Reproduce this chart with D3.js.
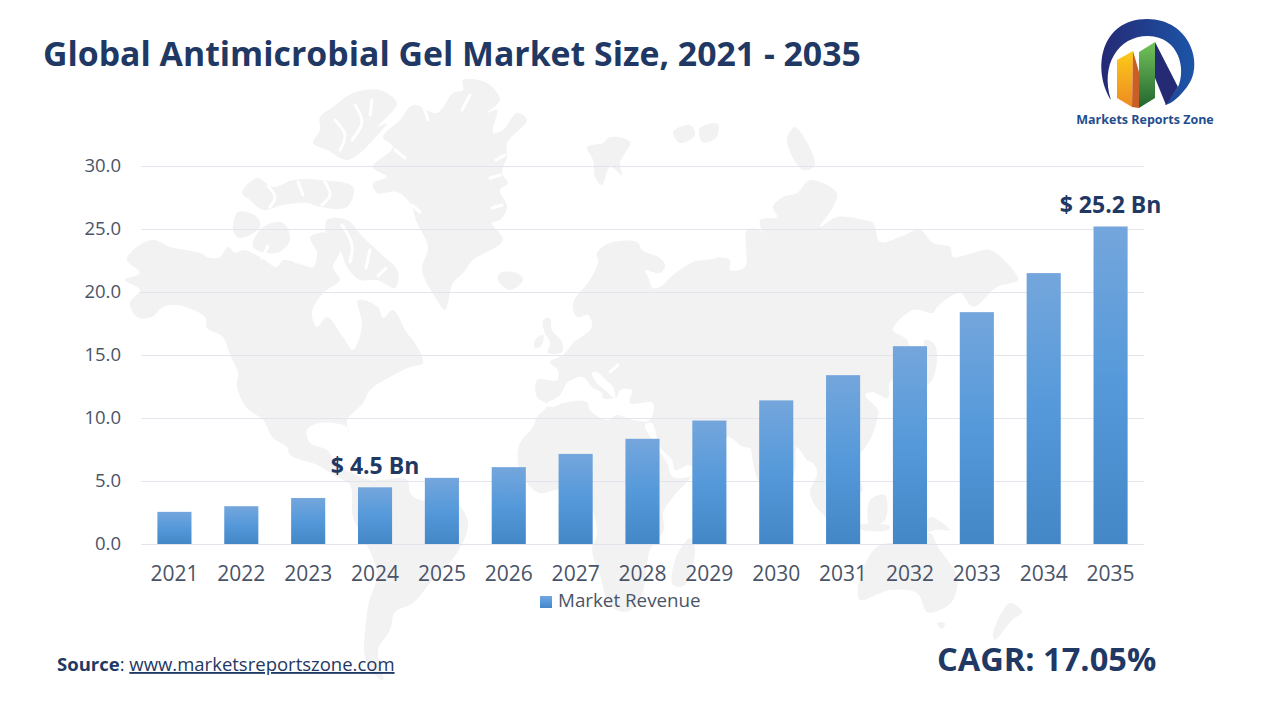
<!DOCTYPE html>
<html>
<head>
<meta charset="utf-8">
<title>Global Antimicrobial Gel Market Size</title>
<script src="https://cdn.jsdelivr.net/npm/d3@7"></script>
<style>
  html, body { margin: 0; padding: 0; background: #fff; }
  svg { display: block; font-family: "Open Sans", sans-serif; }
  .tick text { fill: #4a5468; font-family: "Open Sans", sans-serif; }
  .grid line { stroke: #e2e5ec; stroke-width: 1.2; }
  .grid path, .xaxis path, .xaxis line { display: none; }
</style>
</head>
<body>
<svg id="chart" width="1280" height="720"></svg>
<script>
// chart values
let years = ["2021","2022","2023","2024","2025","2026","2027","2028","2029","2030","2031","2032","2033","2034","2035"];
let revenue = [2.55, 3.0, 3.65, 4.5, 5.25, 6.1, 7.15, 8.35, 9.8, 11.4, 13.4, 15.7, 18.4, 21.5, 25.2];
let yTicks = [0, 5, 10, 15, 20, 25, 30];
let callouts = [["2024", 4.5, "$ 4.5 Bn"], ["2035", 25.2, "$ 25.2 Bn"]];
let seriesName = "Market Revenue";

// background map outlines
let land = [
  // americas
  [[133,250],[153,240],[170,247],[200,253],[210,258],[220,257],[228,247],[235,253],[243,250],[260,257],[277,267],[283,260],[303,265],[313,267],[317,253],[310,237],[327,233],[340,250],[333,267],[340,280],[323,293],[312,313],[317,327],[327,317],[343,337],[353,350],[362,325],[358,300],[378,307],[383,318],[393,310],[407,333],[415,343],[423,363],[410,367],[390,377],[370,390],[363,403],[353,413],[347,420],[350,437],[347,427],[320,423],[307,430],[310,443],[327,450],[337,465],[350,472],[370,480],[407,480],[410,493],[420,500],[453,500],[468,523],[457,553],[430,583],[413,603],[395,612],[390,630],[378,650],[383,680],[373,673],[365,657],[368,607],[377,573],[363,537],[353,517],[350,485],[337,477],[317,465],[290,455],[287,447],[273,438],[263,420],[247,408],[237,387],[238,373],[230,355],[223,337],[207,328],[205,317],[177,305],[163,307],[152,317],[137,317],[130,303],[140,290],[125,280],[140,273],[127,260]],
  // greenland
  [[463,80],[487,83],[500,100],[487,113],[497,110],[493,133],[503,130],[517,113],[527,120],[507,143],[507,157],[502,173],[508,183],[500,190],[507,207],[500,220],[492,223],[503,240],[473,260],[463,273],[453,283],[445,310],[437,300],[422,270],[428,247],[417,223],[410,203],[397,192],[377,193],[373,183],[387,177],[373,167],[393,147],[383,137],[400,120],[413,105],[437,113],[453,93],[463,90]],
  // arctic islands
  [[320,117],[333,107],[353,93],[380,90],[397,103],[387,117],[377,127],[387,123],[373,140],[360,153],[347,160],[327,150],[313,143],[320,130]],
  [[242,193],[257,178],[273,187],[293,180],[320,180],[353,187],[347,207],[320,207],[307,203],[283,205],[263,210],[250,200]],
  [[233,230],[238,212],[257,217],[260,227],[240,238]],
  [[263,227],[283,223],[290,240],[277,253],[253,247]],
  [[327,220],[347,220],[363,237],[380,253],[398,272],[395,288],[377,280],[360,280],[347,267],[340,250],[327,237]],
  // iceland
  [[500,273],[517,273],[523,280],[510,290],[498,280]],
  // eurasia and africa
  [[537,380],[557,380],[558,370],[550,362],[563,355],[573,343],[580,338],[592,327],[588,315],[577,317],[573,303],[590,280],[598,262],[597,253],[610,243],[637,242],[642,250],[660,258],[665,266],[650,287],[670,267],[690,257],[710,257],[730,260],[730,270],[745,267],[747,230],[760,230],[767,243],[760,220],[777,217],[773,207],[783,197],[797,193],[810,180],[837,193],[833,207],[820,227],[837,217],[863,220],[873,223],[880,242],[900,237],[920,230],[933,243],[950,247],[953,257],[973,253],[990,250],[1013,270],[1018,280],[997,287],[973,307],[960,293],[937,307],[933,313],[913,310],[893,330],[907,340],[910,360],[905,375],[890,382],[888,398],[872,392],[865,395],[878,410],[877,420],[870,440],[853,467],[863,490],[850,495],[838,482],[823,513],[810,493],[817,473],[813,463],[807,460],[797,447],[795,470],[785,500],[770,495],[758,480],[753,463],[750,448],[743,447],[727,437],[693,465],[692,475],[673,497],[663,513],[664,530],[650,550],[647,565],[640,600],[625,612],[610,605],[600,575],[592,550],[597,533],[590,507],[560,490],[540,493],[527,483],[518,463],[520,443],[533,427],[537,417],[547,405],[537,397]],
  // britain, ireland
  [[543,320],[550,318],[552,330],[562,342],[562,352],[548,353],[550,343],[545,333]],
  [[535,340],[543,335],[542,345],[535,348]],
  // svalbard, franz josef, novaya zemlya
  [[587,147],[603,143],[610,137],[630,142],[620,163],[622,175],[610,167],[602,185],[595,177],[593,160]],
  [[673,132],[690,125],[695,135],[680,143]],
  [[700,128],[718,124],[716,138],[702,142]],
  [[787,140],[795,127],[815,165],[803,170]],
  // japan
  [[925,340],[935,345],[932,380],[905,395],[900,390],[922,370]],
  // indonesia, new guinea
  [[820,490],[840,520],[835,525],[815,500]],
  [[870,500],[885,495],[885,520],[870,525]],
  [[860,525],[890,526],[888,530],[860,529]],
  [[930,517],[950,530],[935,530],[925,533]],
  // madagascar
  [[690,538],[695,550],[685,585],[673,585],[675,560]],
  // australia, tasmania, new zealand
  [[880,545],[917,542],[930,533],[938,547],[957,577],[953,600],[940,610],[927,612],[917,593],[890,590],[860,600],[858,587],[867,560]],
  [[937,623],[945,623],[942,629]],
  [[1010,603],[1022,612],[1012,620],[995,640],[993,634]]
];
let seas = [
  // mediterranean, black sea, red sea and aden
  [[545,405],[560,395],[568,382],[583,377],[592,387],[602,393],[603,398],[617,397],[620,390],[632,390],[630,403],[653,403],[650,420],[633,420],[617,415],[607,420],[590,410],[587,402],[563,403],[553,407]],
  [[592,373],[597,372],[607,381],[613,387],[615,398],[605,390],[597,383]],
  [[645,425],[652,423],[660,447],[672,460],[675,470],[690,465],[692,475],[673,477],[667,463],[657,447]],
  // baltic
  [[645,270],[660,273],[673,258],[687,255],[713,250],[717,257],[693,262],[673,275],[660,287],[653,288],[648,277]]
];
// fjords and channels cut out of the land
let channels = [
  [[335,120],[345,135],[340,150]], [[355,105],[362,122],[352,140]], [[372,100],[370,115]],
  [[268,186],[275,197],[270,207]], [[298,182],[303,195]], [[325,182],[330,195],[322,205]],
  [[262,258],[268,246]], [[296,262],[293,248],[300,238]], [[318,232],[322,220]],
  [[342,225],[352,245],[350,262]], [[370,250],[366,268]], [[386,268],[378,276]],
  [[505,155],[496,160]], [[500,175],[490,178]], [[502,205],[492,208]], [[470,95],[462,110]],
  [[423,105],[428,120]], [[395,150],[405,158]], [[412,205],[420,212]],
  [[610,372],[618,365]], [[740,230],[737,258]], [[700,232],[735,190]]
];

let svg = d3.select("#chart");
let margin = { left: 141, right: 136, top: 166, bottom: 176 };
let width = 1280, height = 720;

let defs = svg.append("defs");
let barGrad = defs.append("linearGradient").attr("id", "barFill").attr("x1", 0).attr("y1", 0).attr("x2", 0).attr("y2", 1);
barGrad.append("stop").attr("offset", "0%").attr("stop-color", "#74a6dc");
barGrad.append("stop").attr("offset", "50%").attr("stop-color", "#5599da");
barGrad.append("stop").attr("offset", "100%").attr("stop-color", "#4487c7");

let ringGrad = defs.append("linearGradient").attr("id", "ringFill").attr("x1", 0).attr("y1", 0).attr("x2", 1).attr("y2", 0);
ringGrad.append("stop").attr("offset", "0%").attr("stop-color", "#252a75");
ringGrad.append("stop").attr("offset", "100%").attr("stop-color", "#1c55a8");
let yellowGrad = defs.append("linearGradient").attr("id", "yellowFill").attr("x1", 0).attr("y1", 0).attr("x2", 0).attr("y2", 1);
yellowGrad.append("stop").attr("offset", "0%").attr("stop-color", "#fbcb18");
yellowGrad.append("stop").attr("offset", "100%").attr("stop-color", "#ee8a22");
let greenGrad = defs.append("linearGradient").attr("id", "greenFill").attr("x1", 0).attr("y1", 0).attr("x2", 0).attr("y2", 1);
greenGrad.append("stop").attr("offset", "0%").attr("stop-color", "#74c35a");
greenGrad.append("stop").attr("offset", "100%").attr("stop-color", "#22662f");

// world map behind the chart
let outline = d3.line().curve(d3.curveCatmullRomClosed.alpha(0.5));
svg.append("g").selectAll("path").data(land).enter().append("path")
  .attr("d", outline).attr("fill", "#f2f2f2");
svg.append("g").selectAll("path").data(seas).enter().append("path")
  .attr("d", outline).attr("fill", "#fff");
svg.append("g").selectAll("path").data(channels).enter().append("path")
  .attr("d", d3.line().curve(d3.curveCatmullRom))
  .attr("fill", "none").attr("stroke", "#fff").attr("stroke-width", 3).attr("stroke-linecap", "round");

let x = d3.scaleBand().domain(years).range([margin.left, width - margin.right]).paddingInner(0.49).paddingOuter(0.245);
let y = d3.scaleLinear().domain([0, 30]).range([height - margin.bottom, margin.top]);

// y axis with the gridlines
let yAxis = svg.append("g").attr("class", "grid")
  .attr("transform", "translate(" + margin.left + ",0)")
  .call(d3.axisLeft(y).tickValues(yTicks).tickFormat(d3.format(".1f")).tickSize(-(width - margin.left - margin.right)).tickPadding(20));
yAxis.selectAll("text").style("font-size", "18.5px");

let xAxis = svg.append("g").attr("class", "xaxis")
  .attr("transform", "translate(0," + (height - margin.bottom) + ")")
  .call(d3.axisBottom(x).tickSize(0).tickPadding(22));
xAxis.selectAll("text").style("font-size", "21px");

svg.append("g").selectAll("rect").data(revenue).enter().append("rect")
  .attr("x", (d, i) => x(years[i]))
  .attr("y", (d) => y(d))
  .attr("width", x.bandwidth())
  .attr("height", (d) => y(0) - y(d))
  .attr("fill", "url(#barFill)");

svg.append("g").selectAll("text").data(callouts).enter().append("text")
  .attr("x", (d) => x(d[0]) + x.bandwidth() / 2)
  .attr("y", (d) => y(d[1]) - 13)
  .attr("text-anchor", "middle")
  .attr("fill", "#1f3864")
  .attr("font-size", 23)
  .attr("font-weight", 700)
  .text((d) => d[2]);

// legend
svg.append("rect").attr("x", 540).attr("y", 596).attr("width", 12).attr("height", 12).attr("fill", "url(#barFill)");
svg.append("text").attr("x", 558).attr("y", 607).attr("font-size", 18.8).attr("fill", "#4a5468").text(seriesName);

// title and footer
svg.append("text").attr("x", 43).attr("y", 66).attr("font-size", 33.8).attr("font-weight", 700).attr("fill", "#1f3864")
  .text("Global Antimicrobial Gel Market Size, 2021 - 2035");
let source = svg.append("text").attr("x", 57).attr("y", 671).attr("font-size", 18.5).attr("fill", "#1f3864");
source.append("tspan").attr("font-weight", 700).text("Source");
source.append("tspan").text(": ");
source.append("tspan").attr("text-decoration", "underline").text("www.marketsreportszone.com");
svg.append("text").attr("x", 937).attr("y", 671).attr("font-size", 32.6).attr("font-weight", 700).attr("fill", "#1f3864")
  .text("CAGR: 17.05%");

// logo
let logo = svg.append("g");
logo.append("path").attr("fill", "url(#ringFill)")
  .attr("d", "M1111,100 C1092,70 1100,19 1147,19 C1190,19 1205,65 1187,87 C1180,96 1172,104 1165,105 L1178,87 C1186,70 1180,37 1148,36 C1118,36 1100,65 1111,100 Z");
logo.append("path").attr("fill", "#252a75").attr("d", "M1155,42 L1178,87 L1166,105 L1155,78 Z");
logo.append("path").attr("fill", "url(#yellowFill)").attr("d", "M1117,60 L1133,51 L1132,107 L1117,98 Z");
logo.append("path").attr("fill", "#c95f26").attr("d", "M1133,51 L1139,72 L1139,108 L1132,107 Z");
logo.append("path").attr("fill", "url(#greenFill)").attr("d", "M1139,52 L1155,42 L1155,98 L1139,108 Z");
logo.append("text").attr("x", 1145).attr("y", 124).attr("text-anchor", "middle").attr("font-size", 12.5).attr("font-weight", 700)
  .attr("fill", "#1f4e8f").text("Markets Reports Zone");
</script>
</body>
</html>
